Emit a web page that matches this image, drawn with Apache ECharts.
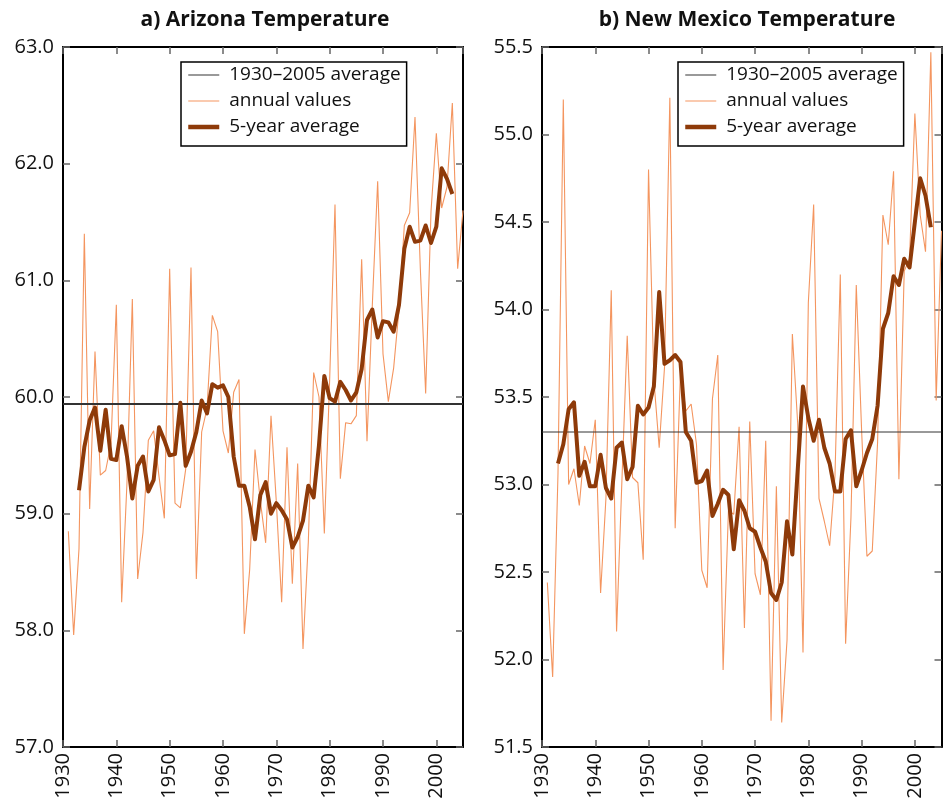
<!DOCTYPE html>
<html>
<head>
<meta charset="utf-8">
<script src="https://cdn.jsdelivr.net/npm/echarts@6.0.0/dist/echarts.min.js"></script>
<style>
  html, body { margin: 0; padding: 0; background: #fff; }
  #chart { width: 949px; height: 803px; }
</style>
</head>
<body>
<div id="chart"></div>
<script>
// ---- data ----
const years = [1931,1932,1933,1934,1935,1936,1937,1938,1939,1940,
  1941,1942,1943,1944,1945,1946,1947,1948,1949,1950,
  1951,1952,1953,1954,1955,1956,1957,1958,1959,1960,
  1961,1962,1963,1964,1965,1966,1967,1968,1969,1970,
  1971,1972,1973,1974,1975,1976,1977,1978,1979,1980,
  1981,1982,1983,1984,1985,1986,1987,1988,1989,1990,
  1991,1992,1993,1994,1995,1996,1997,1998,1999,2000,
  2001,2002,2003,2004,2005];

const azAnnual = [58.85,57.96,58.70,61.40,59.04,60.39,59.33,59.37,59.60,60.79,
  58.24,59.27,60.84,58.44,58.84,59.63,59.71,59.32,58.96,61.10,
  59.09,59.05,59.38,61.11,58.44,59.70,59.90,60.70,60.56,59.71,
  59.52,60.04,60.15,57.97,58.52,59.55,59.11,58.75,59.84,59.10,
  58.24,59.57,58.40,59.43,57.84,58.76,60.21,60.00,58.83,60.15,
  61.65,59.30,59.78,59.77,59.84,61.18,59.62,60.79,61.85,60.37,
  59.96,60.25,60.75,61.47,61.58,62.40,61.10,60.03,61.59,62.26,
  61.62,61.80,62.52,61.10,61.60];

// 5-year running mean, centred, 1933-2003
const az5yr = [59.20,59.57,59.80,59.91,59.54,59.89,59.47,59.46,59.75,59.49,
  59.13,59.41,59.49,59.19,59.29,59.74,59.63,59.50,59.51,59.95,
  59.41,59.53,59.70,59.97,59.86,60.11,60.08,60.10,60.00,59.49,
  59.24,59.24,59.06,58.78,59.16,59.27,59.00,59.09,59.03,58.95,
  58.71,58.80,58.94,59.24,59.14,59.59,60.18,59.99,59.96,60.13,
  60.06,59.97,60.04,60.24,60.66,60.75,60.51,60.65,60.64,60.56,
  60.79,61.27,61.46,61.33,61.34,61.47,61.32,61.46,61.96,61.87,
  61.74];

const nmAnnual = [52.44,51.90,53.06,55.20,53.00,53.09,52.88,53.22,53.12,53.37,
  52.38,52.92,54.11,52.16,53.02,53.85,53.04,53.01,52.57,54.80,
  53.60,53.21,53.67,55.21,52.75,53.65,53.42,53.46,53.23,52.51,
  52.41,53.49,53.74,51.94,52.85,52.83,53.33,52.18,53.36,52.49,
  52.37,53.25,51.65,52.99,51.64,52.11,53.86,53.35,52.04,54.04,
  54.60,52.92,52.79,52.65,53.05,54.20,52.09,52.81,54.14,53.31,
  52.59,52.62,53.24,54.54,54.37,54.79,53.03,54.22,54.29,55.12,
  54.54,54.33,55.47,53.48,54.45];

const nm5yr = [53.12,53.23,53.43,53.47,53.05,53.13,52.99,52.99,53.17,52.98,
  52.92,53.21,53.24,53.03,53.10,53.45,53.40,53.44,53.56,54.10,
  53.69,53.71,53.74,53.70,53.30,53.25,53.01,53.02,53.08,52.82,
  52.89,52.97,52.94,52.63,52.91,52.85,52.75,52.73,52.64,52.56,
  52.38,52.34,52.44,52.79,52.60,53.08,53.56,53.38,53.25,53.37,
  53.21,53.12,52.96,52.96,53.26,53.31,52.99,53.08,53.18,53.26,
  53.45,53.89,53.98,54.19,54.14,54.29,54.24,54.50,54.75,54.65,
  54.47];

const azAverage = 59.94;
const nmAverage = 53.30;
const periodYears = [1930, 2005];
const xTicks = [1930, 1940, 1950, 1960, 1970, 1980, 1990, 2000];
const titles = ['a) Arizona Temperature', 'b) New Mexico Temperature'];
const legendNames = ['1930\u20132005 average', 'annual values', '5-year average'];

// ---- build ----
const years5 = years.slice(2, 2 + az5yr.length);
const pairs = (xs, ys) => ys.map((v, i) => [xs[i], v]);

const FONT = '"Open Sans", "DejaVu Sans", sans-serif';
const C_ANNUAL = '#F4955F';
const C_5YR = '#8E3A09';
const C_AVG = '#333';

const grids = [
  { left: 63, right: 486, top: 47, bottom: 56 },
  { left: 542, right: 7.5, top: 47, bottom: 56 }
];

function xAx(gi, pos) {
  return {
    type: 'value', gridIndex: gi, position: pos, min: 1930, max: 2005, interval: 10,
    axisLine: { show: true, onZero: false, lineStyle: { color: '#000', width: 2 } },
    axisTick: { show: true, inside: true, length: 7, lineStyle: { color: '#666', width: 1.5 } },
    axisLabel: { show: pos === 'bottom', rotate: 90, margin: 6, fontSize: 20, color: '#111', fontFamily: FONT,
      showMaxLabel: false,
      formatter: v => (xTicks.indexOf(v) >= 0 ? String(v) : '') },
    splitLine: { show: false }
  };
}
function yAx(gi, pos, min, max, interval) {
  return {
    type: 'value', gridIndex: gi, position: pos, min: min, max: max, interval: interval,
    axisLine: { show: true, onZero: false, lineStyle: { color: '#000', width: 2 } },
    axisTick: { show: true, inside: true, length: 7, lineStyle: { color: '#666', width: 1.5 } },
    axisLabel: { show: pos === 'left', margin: 9, fontSize: 20, color: '#111', fontFamily: FONT,
      formatter: v => v.toFixed(1) },
    splitLine: { show: false }
  };
}

function panelSeries(prefix, idx, annual, fiveYr, avg, avgWidth) {
  return [
    { name: prefix + legendNames[0], type: 'line', xAxisIndex: idx * 2, yAxisIndex: idx * 2,
      data: periodYears.map(y => [y, avg]), symbol: 'none', silent: true,
      lineStyle: { color: C_AVG, width: avgWidth }, itemStyle: { color: C_AVG }, z: 3 },
    { name: prefix + legendNames[1], type: 'line', xAxisIndex: idx * 2, yAxisIndex: idx * 2,
      data: pairs(years, annual), symbol: 'none',
      lineStyle: { color: C_ANNUAL, width: 1.1 }, itemStyle: { color: C_ANNUAL }, z: 2 },
    { name: prefix + legendNames[2], type: 'line', xAxisIndex: idx * 2, yAxisIndex: idx * 2,
      data: pairs(years5, fiveYr), symbol: 'none',
      lineStyle: { color: C_5YR, width: 4, join: 'round' }, itemStyle: { color: C_5YR }, z: 4 }
  ];
}

function legendFor(prefix, left) {
  const widths = [1.2, 1.2, 4.5];
  const colors = ['#555', '#F7A77A', C_5YR];
  return {
    orient: 'vertical', left: left, top: 62,
    data: legendNames.map((n, i) => ({
      name: prefix + n,
      lineStyle: { width: widths[i], color: colors[i] }
    })),
    formatter: n => n.slice(prefix.length),
    itemWidth: 31, itemHeight: 14, itemGap: 6,
    padding: [3, 6, 9, 5],
    borderColor: '#000', borderWidth: 1.5,
    backgroundColor: '#fff',
    selectedMode: false,
    itemStyle: { color: 'transparent', borderWidth: 0, opacity: 0 },
    textStyle: { fontSize: 19, lineHeight: 20, color: '#111', fontFamily: FONT, padding: [0, 0, 0, 5] }
  };
}

const option = {
  animation: false,
  backgroundColor: '#fff',
  title: [
    { text: titles[0], left: 260, top: 5, textAlign: 'center',
      textStyle: { fontSize: 21, fontWeight: 'bold', color: '#111', fontFamily: FONT } },
    { text: titles[1], left: 742, top: 5, textAlign: 'center',
      textStyle: { fontSize: 21, fontWeight: 'bold', color: '#111', fontFamily: FONT } }
  ],
  grid: grids,
  xAxis: [xAx(0, 'bottom'), xAx(0, 'top'), xAx(1, 'bottom'), xAx(1, 'top')],
  yAxis: [yAx(0, 'left', 57, 63, 1), yAx(0, 'right', 57, 63, 1),
          yAx(1, 'left', 51.5, 55.5, 0.5), yAx(1, 'right', 51.5, 55.5, 0.5)],
  legend: [legendFor('AZ:', 181), legendFor('NM:', 678)],
  series: [].concat(
    panelSeries('AZ:', 0, azAnnual, az5yr, azAverage, 2),
    panelSeries('NM:', 1, nmAnnual, nm5yr, nmAverage, 1)
  )
};

const chart = echarts.init(document.getElementById('chart'));
chart.setOption(option);
</script>
</body>
</html>
